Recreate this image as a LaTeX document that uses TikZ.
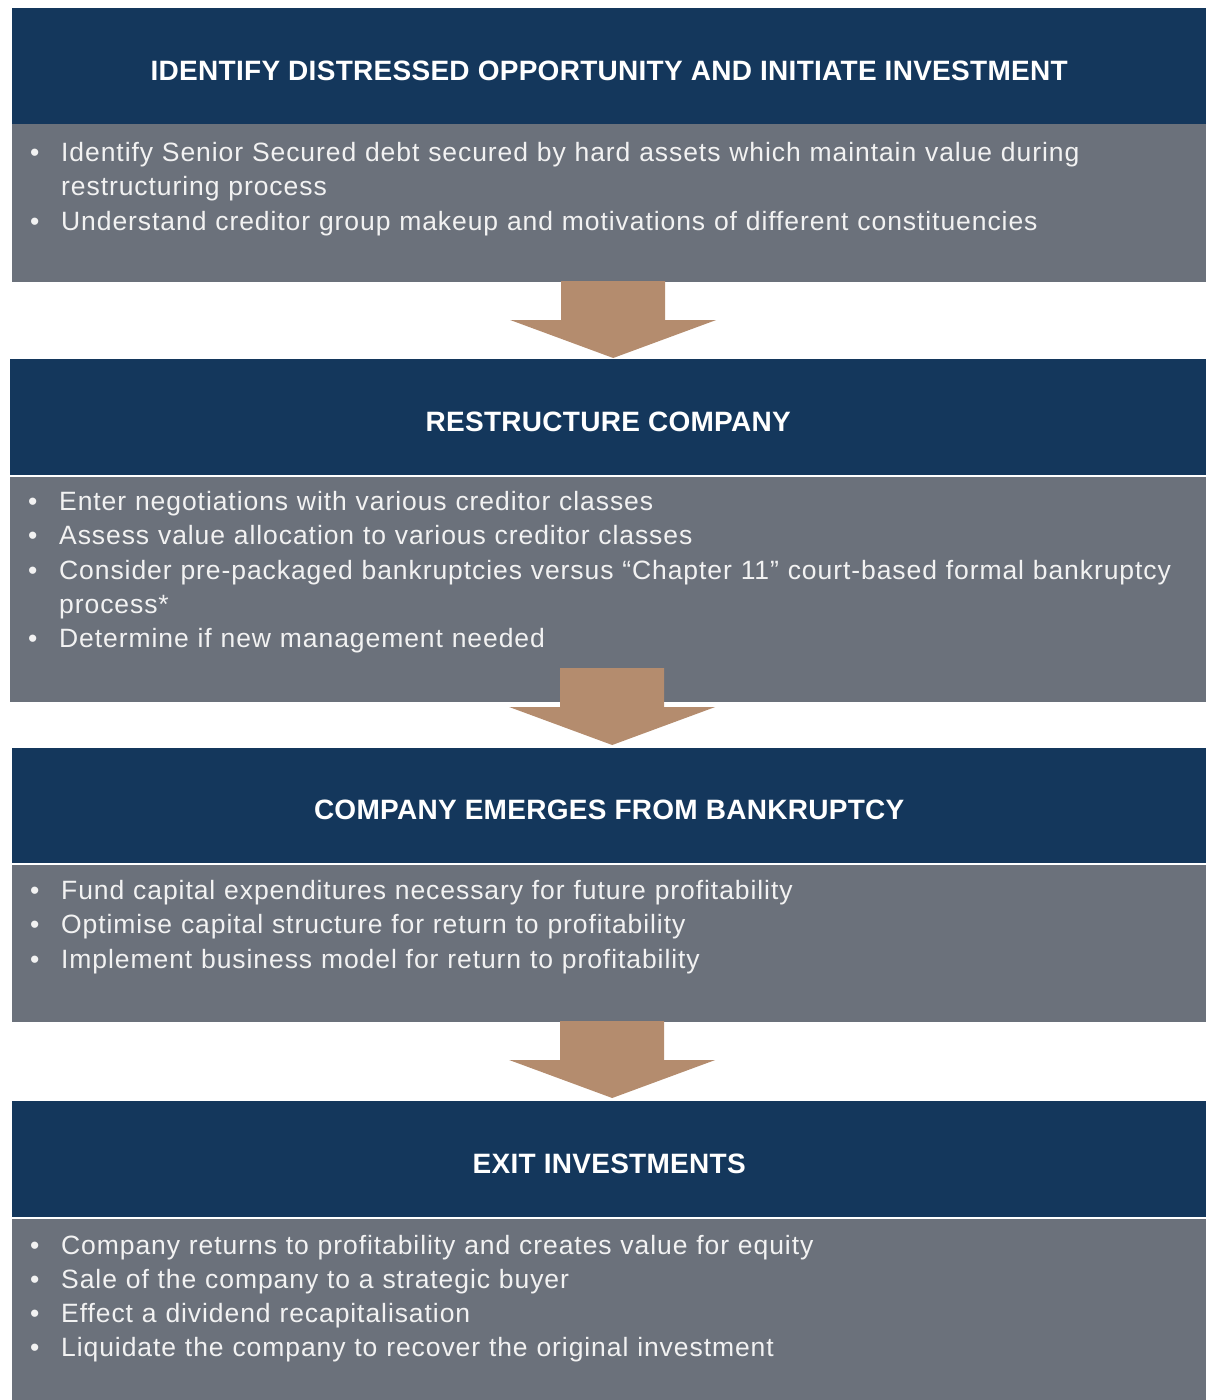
\documentclass[tikz,border=0pt]{standalone}
\usepackage{fontspec}
\setmainfont{Liberation Sans}
\newfontfamily\headfont{Liberation Sans}[LetterSpace=1]
\newfontfamily\itemfont{Liberation Sans}[LetterSpace=3.5]
\usetikzlibrary{calc}

\definecolor{navy}{HTML}{14375C}
\definecolor{slate}{HTML}{6B717B}
\definecolor{copper}{HTML}{B48C6E}
\definecolor{paper}{HTML}{F2F2F2}

\tikzset{
  head/.style={anchor=north west, fill=navy, text=white, inner sep=0pt,
    minimum height=116pt, text height=28pt, text depth=0pt,
    font=\headfont\bfseries\fontsize{28}{34}\selectfont},
  panel/.style={anchor=north west, fill=slate, inner sep=0pt},
  items/.style={anchor=base west, inner sep=0pt, text=paper,
    text width=1170pt, align=left,
    font=\itemfont\fontsize{26.5}{34.3}\selectfont},
  bigarrow/.style={fill=copper}
}
\newcommand{\itm}{\makebox[31pt][l]{\textbullet}}
\newcommand{\gap}{\hspace*{31pt}}
% tip of the arrow at #1, shaft above it
\newcommand{\flowarrow}[1]{%
  \fill[bigarrow] (#1) -- ++(-103,-38) -- ++(51,0) -- ++(0,-39)
    -- ++(104,0) -- ++(0,39) -- ++(51,0) -- cycle;}

\begin{document}
\begin{tikzpicture}[x=1pt, y=-1pt]
  \useasboundingbox (0,0) rectangle (1206,1400);

  % step 1
  \node[head, minimum width=1194pt] (h1) at (12,8)
    {IDENTIFY DISTRESSED OPPORTUNITY AND INITIATE INVESTMENT};
  \node[panel, minimum width=1194pt, minimum height=158pt] (b1) at (12,124) {};
  \node[items] (l1) at (30,161.5) {%
    \itm Identify Senior Secured debt secured by hard assets which maintain value during\\
    \gap restructuring process\\
    \itm Understand creditor group makeup and motivations of different constituencies};

  % step 2
  \node[head, minimum width=1196pt] (h2) at (10,359) {RESTRUCTURE COMPANY};
  \node[panel, minimum width=1196pt, minimum height=225pt] (b2) at (10,477) {};
  \node[items] (l2) at (28,510.5) {%
    \itm Enter negotiations with various creditor classes\\
    \itm Assess value allocation to various creditor classes\\
    \itm Consider pre-packaged bankruptcies versus “Chapter 11” court-based formal bankruptcy\\
    \gap process*\\
    \itm Determine if new management needed};

  % step 3
  \node[head, minimum width=1194pt, minimum height=115pt] (h3) at (12,748)
    {COMPANY EMERGES FROM BANKRUPTCY};
  \node[panel, minimum width=1194pt, minimum height=157pt] (b3) at (12,865) {};
  \node[items] (l3) at (30,899.5) {%
    \itm Fund capital expenditures necessary for future profitability\\
    \itm Optimise capital structure for return to profitability\\
    \itm Implement business model for return to profitability};

  % step 4
  \node[head, minimum width=1194pt] (h4) at (12,1101) {EXIT INVESTMENTS};
  \node[panel, minimum width=1194pt, minimum height=181pt] (b4) at (12,1219) {};
  \node[items] (l4) at (30,1254) {%
    \itm Company returns to profitability and creates value for equity\\
    \itm Sale of the company to a strategic buyer\\
    \itm Effect a dividend recapitalisation\\
    \itm Liquidate the company to recover the original investment};

  % arrows between the steps
  \coordinate (t1) at ($(h2.north)+(5,-1)$);
  \coordinate (t2) at ($(h3.north)+(3,-3)$);
  \coordinate (t3) at ($(h4.north)+(3,-3)$);
  \flowarrow{t1}
  \flowarrow{t2}
  \flowarrow{t3}
\end{tikzpicture}
\end{document}
